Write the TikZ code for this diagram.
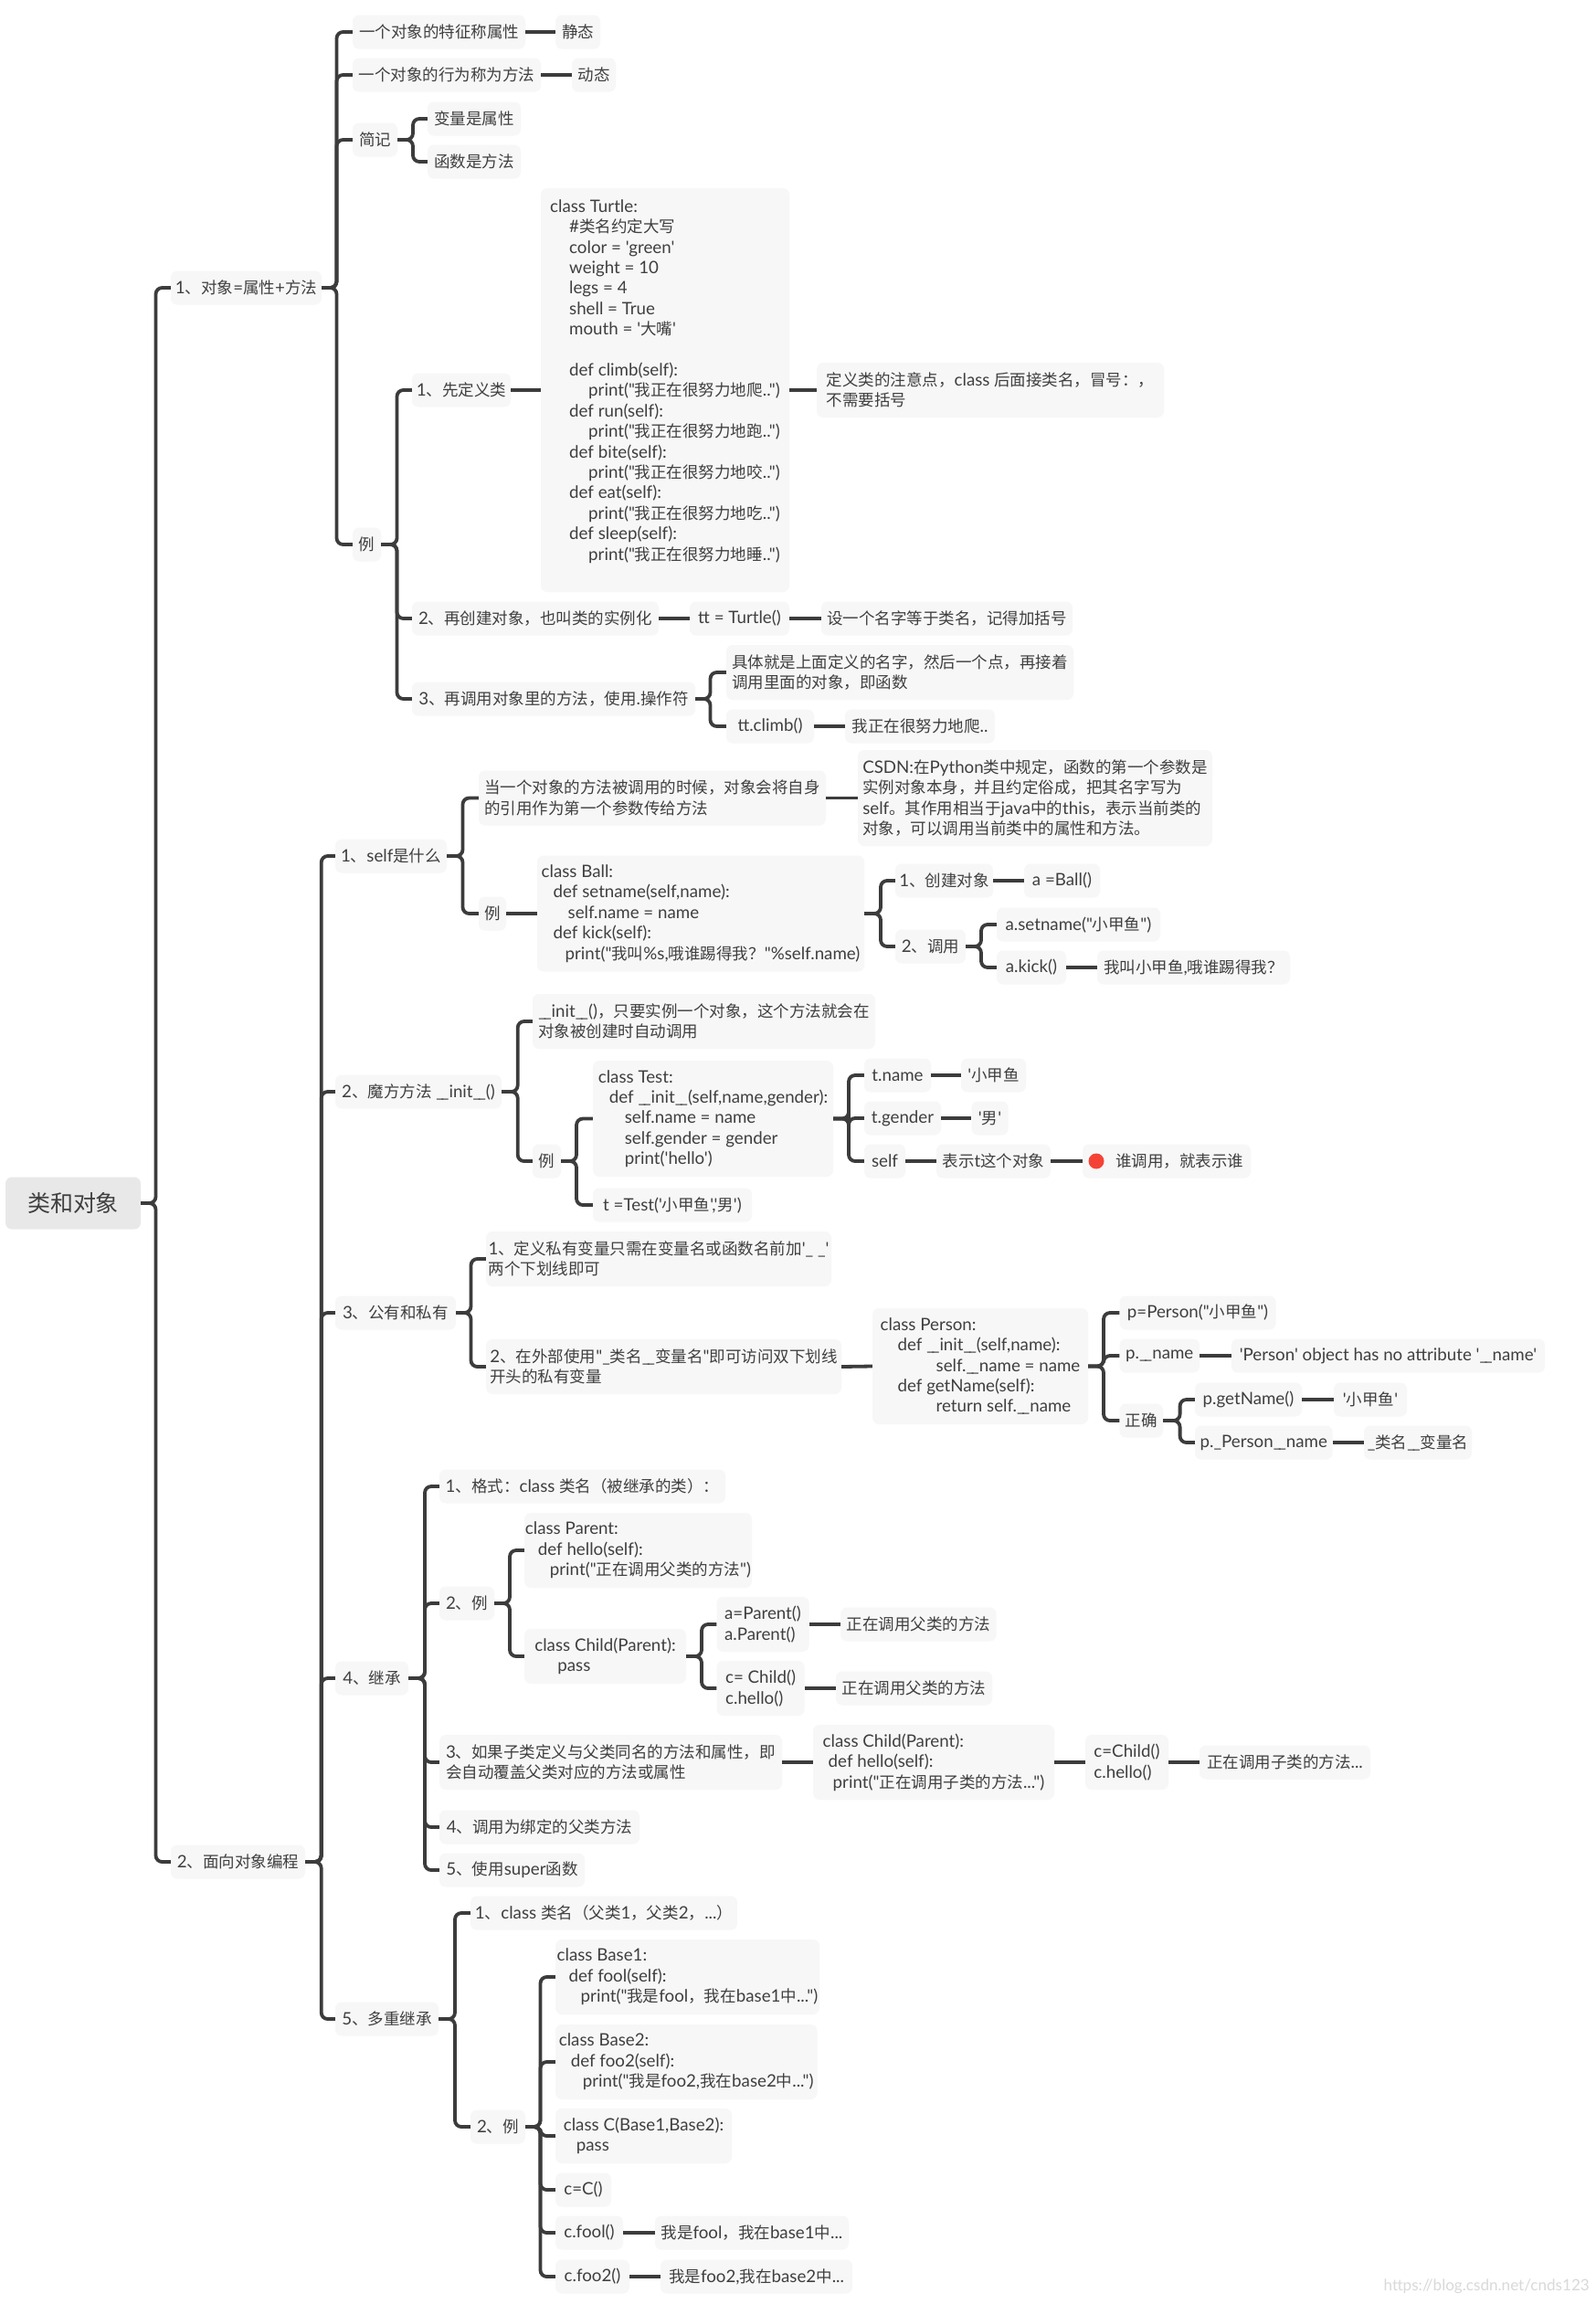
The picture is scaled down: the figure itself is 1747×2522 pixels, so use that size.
\documentclass[tikz,border=0pt]{standalone}
\usepackage{fontspec}
\newfontfamily\latf[Scale=1.07]{Lato}
\newfontfamily\cjkf{Noto Sans CJK SC}
\newXeTeXintercharclass\cjkclass
\newcount\cc
\newcommand{\setrange}[2]{\cc=#1\relax\loop\XeTeXcharclass\cc=\cjkclass\ifnum\cc<#2\relax\advance\cc by 1\repeat}
\setrange{"4E00}{"9FFF}
\setrange{"3000}{"303F}
\setrange{"FF00}{"FF60}
\XeTeXinterchartoks 0 \cjkclass={\cjkf}
\XeTeXinterchartoks 4095 \cjkclass={\cjkf}
\XeTeXinterchartoks \cjkclass 0={\latf}
\XeTeXinterchartoks \cjkclass 4095={\latf}
\XeTeXinterchartokenstate=1
\definecolor{linkc}{HTML}{3C3C3C}
\definecolor{boxc}{HTML}{F7F7F7}
\definecolor{rootc}{HTML}{E8E8E8}
\definecolor{textc}{HTML}{3F3F3F}
\definecolor{dotc}{HTML}{F44336}
\tikzset{
 box/.style={fill=boxc,rounded corners=7pt,inner sep=0pt,align=left,text=textc,
   font=\fontsize{17.5}{22.4}\selectfont\latf},
 rootbox/.style={box,fill=rootc,font=\fontsize{25}{30}\selectfont\latf},
 link/.style={draw=linkc,line width=3.8pt,rounded corners=7pt,line join=round},
 stub/.style={draw=linkc,line width=3.8pt},
}
% name, x-left, x-right, y-centre, height, text
\newcommand{\bx}[6]{\node[box,minimum width={#3-#2},minimum height=#5] (#1) at ({(#2+#3)/2},#4) {#6};}
% parent, child, bus x
\newcommand{\cn}[3]{\coordinate (bus) at (#3,0);\draw[link] (#1.east) -- (bus |- #1.east) -- (bus |- #2.west) -- (#2.west);}
\newcommand{\st}[2]{\draw[stub] (#1.east) -- (#2.west);}
\newcommand{\ind}[1]{\hspace*{#1pt}}
\newcommand{\dus}{\_\kern-3pt\_}
\begin{document}
\begin{tikzpicture}[x=1pt,y=-1pt]
\useasboundingbox (0,0) rectangle (1747,2522);
\fill[white] (0,0) rectangle (1747,2522);
\node[rootbox,minimum width=148,minimum height=57] (root) at (80,1317) {类和对象};
% level 1
\bx{a}{187}{352}{315}{37}{1、对象=属性+方法}
\bx{b}{187}{334}{2038}{37}{2、面向对象编程}
\cn{root}{a}{170.5}\cn{root}{b}{170.5}
% section 1
\bx{a1}{386}{575}{35}{37}{一个对象的特征称属性}
\bx{a1x}{608}{657}{35}{37}{静态}
\bx{a2}{386}{592}{82}{37}{一个对象的行为称为方法}
\bx{a2x}{626}{674}{82}{37}{动态}
\bx{a3}{386}{435}{153}{37}{简记}
\bx{a3x}{468}{570}{130}{37}{变量是属性}
\bx{a3y}{468}{570}{177}{37}{函数是方法}
\bx{a4}{386}{417}{596}{37}{例}
\cn{a}{a1}{368.5}\cn{a}{a2}{368.5}\cn{a}{a3}{368.5}\cn{a}{a4}{368.5}
\st{a1}{a1x}\st{a2}{a2x}
\cn{a3}{a3x}{452}\cn{a3}{a3y}{452}
\bx{e1}{451}{559}{427}{37}{1、先定义类}
\bx{e1c}{592}{864}{427}{442}{class Turtle:\\
\ind{21}\#类名约定大写\\
\ind{21}color = 'green'\\
\ind{21}weight = 10\\
\ind{21}legs = 4\\
\ind{21}shell = True\\
\ind{21}mouth = '大嘴'\\
\mbox{}\\
\ind{21}def climb(self):\\
\ind{42}print("我正在很努力地爬..")\\
\ind{21}def run(self):\\
\ind{42}print("我正在很努力地跑..")\\
\ind{21}def bite(self):\\
\ind{42}print("我正在很努力地咬..")\\
\ind{21}def eat(self):\\
\ind{42}print("我正在很努力地吃..")\\
\ind{21}def sleep(self):\\
\ind{42}print("我正在很努力地睡..")\\
\mbox{}}
\bx{e1n}{894}{1274}{427}{60}{定义类的注意点，class 后面接类名，冒号：，\\不需要括号}
\bx{e2}{451}{721}{677}{37}{2、再创建对象，也叫类的实例化}
\bx{e2c}{755}{864}{677}{37}{tt = Turtle()}
\bx{e2n}{899}{1174}{677}{37}{设一个名字等于类名，记得加括号}
\bx{e3}{451}{761}{765}{37}{3、再调用对象里的方法，使用.操作符}
\bx{e3a}{795}{1175}{736}{60}{具体就是上面定义的名字，然后一个点，再接着\\调用里面的对象，即函数}
\bx{e3b}{795}{891}{795}{37}{tt.climb()}
\bx{e3c}{925}{1089}{795}{37}{我正在很努力地爬..}
\cn{a4}{e1}{434.5}\cn{a4}{e2}{434.5}\cn{a4}{e3}{434.5}
\st{e1}{e1c}\st{e1c}{e1n}\st{e2}{e2c}\st{e2c}{e2n}
\cn{e3}{e3a}{777.5}\cn{e3}{e3b}{777.5}\st{e3b}{e3c}
% section 2
\bx{s1}{367}{489}{937}{37}{1、self是什么}
\bx{s2}{367}{549}{1195}{37}{2、魔方方法 \dus init\dus()}
\bx{s3}{367}{499}{1437}{37}{3、公有和私有}
\bx{s4}{367}{447}{1837}{37}{4、继承}
\bx{s5}{367}{480}{2210}{37}{5、多重继承}
\cn{b}{s1}{351.7}\cn{b}{s2}{351.7}\cn{b}{s3}{351.7}\cn{b}{s4}{351.7}\cn{b}{s5}{351.7}
% self
\bx{s1a}{524}{904}{873.5}{60}{当一个对象的方法被调用的时候，对象会将自身\\的引用作为第一个参数传给方法}
\bx{s1n}{939}{1327}{873.5}{105}{CSDN:在Python类中规定，函数的第一个参数是\\实例对象本身，并且约定俗成，把其名字写为\\self。其作用相当于java中的this，表示当前类的\\对象，可以调用当前类中的属性和方法。}
\bx{s1b}{524}{554}{1000}{37}{例}
\bx{s1c}{588}{946}{1000}{127}{class Ball:\\
\ind{13}def setname(self,name):\\
\ind{29}self.name = name\\
\ind{13}def kick(self):\\
\ind{26}print("我叫\%s,哦谁踢得我？"\%self.name)}
\bx{s1d}{980}{1087}{964}{37}{1、创建对象}
\bx{s1e}{1121}{1204}{964}{37}{a =Ball()}
\bx{s1f}{980}{1057}{1036}{37}{2、调用}
\bx{s1g}{1091}{1270}{1012}{37}{a.setname("小甲鱼")}
\bx{s1h}{1091}{1167}{1059}{37}{a.kick()}
\bx{s1i}{1201}{1412}{1059}{37}{我叫小甲鱼,哦谁踢得我？}
\cn{s1}{s1a}{506.5}\cn{s1}{s1b}{506.5}\st{s1a}{s1n}\st{s1b}{s1c}
\cn{s1c}{s1d}{964}\cn{s1c}{s1f}{964}\st{s1d}{s1e}
\cn{s1f}{s1g}{1074}\cn{s1f}{s1h}{1074}\st{s1h}{s1i}
% init
\bx{s2a}{583}{958}{1118}{60}{\dus init\dus()，只要实例一个对象，这个方法就会在\\对象被创建时自动调用}
\bx{s2b}{583}{614}{1271}{37}{例}
\bx{s2c}{649}{912}{1224.5}{127}{class Test:\\
\ind{12}def \dus init\dus(self,name,gender):\\
\ind{29}self.name = name\\
\ind{29}self.gender = gender\\
\ind{29}print('hello')}
\bx{s2d}{649}{823}{1319}{37}{t =Test('小甲鱼','男')}
\bx{s2e}{946}{1019}{1177}{37}{t.name}
\bx{s2f}{1052}{1123}{1177}{37}{'小甲鱼}
\bx{s2g}{946}{1030}{1224}{37}{t.gender}
\bx{s2h}{1063.5}{1103.5}{1224}{37}{'男'}
\bx{s2i}{946}{991}{1271}{37}{self}
\bx{s2j}{1025}{1150}{1271}{37}{表示t这个对象}
\bx{s2k}{1185}{1369}{1271}{37}{\ind{28}谁调用，就表示谁}
\node[circle,fill=dotc,minimum size=17pt,inner sep=0pt] (dot) at (1200,1271) {};
\cn{s2}{s2a}{566.7}\cn{s2}{s2b}{566.7}
\cn{s2b}{s2c}{631}\cn{s2b}{s2d}{631}
\cn{s2c}{s2e}{929}\cn{s2c}{s2g}{929}\cn{s2c}{s2i}{929}
\st{s2e}{s2f}\st{s2g}{s2h}\st{s2i}{s2j}\st{s2j}{s2k}
% private
\bx{s3a}{532}{910}{1378}{60}{1、定义私有变量只需在变量名或函数名前加'\_ \_'\\两个下划线即可}
\bx{s3b}{532}{921}{1496}{60}{2、在外部使用"\_类名\dus 变量名"即可访问双下划线\\开头的私有变量}
\bx{s3c}{955}{1191}{1495.5}{127}{class Person:\\
\ind{19}def \dus init\dus(self,name):\\
\ind{61}self.\dus name = name\\
\ind{19}def getName(self):\\
\ind{61}return self.\dus name}
\bx{s3d}{1225.5}{1396.6}{1437}{37}{p=Person("小甲鱼")}
\bx{s3e}{1225.5}{1313}{1484}{37}{p.\dus name}
\bx{s3f}{1348}{1691}{1484}{37}{'Person' object has no attribute '\dus name'}
\bx{s3g}{1225.5}{1273}{1555}{37}{正确}
\bx{s3h}{1308}{1425}{1532}{37}{p.getName()}
\bx{s3i}{1460}{1540}{1532}{37}{'小甲鱼'}
\bx{s3j}{1308}{1458.6}{1579}{37}{p.\_Person\dus name}
\bx{s3k}{1493}{1611}{1579}{37}{\_类名\dus 变量名}
\cn{s3}{s3a}{515.5}\cn{s3}{s3b}{515.5}\st{s3b}{s3c}
\cn{s3c}{s3d}{1208}\cn{s3c}{s3e}{1208}\cn{s3c}{s3g}{1208}\st{s3e}{s3f}
\cn{s3g}{s3h}{1291.6}\cn{s3g}{s3j}{1291.6}\st{s3h}{s3i}\st{s3j}{s3k}
% inherit
\bx{s4a}{481}{794}{1627}{37}{1、格式：class 类名（被继承的类）：}
\bx{s4b}{481}{541}{1755}{37}{2、例}
\bx{s4c}{574}{823}{1697}{82}{class Parent:\\
\ind{14}def hello(self):\\
\ind{27}print("正在调用父类的方法")}
\bx{s4d}{574}{751}{1813}{60}{class Child(Parent):\\
\ind{25}pass}
\bx{s4e}{784.5}{885.6}{1778}{60}{a=Parent()\\a.Parent()}
\bx{s4f}{920}{1090.5}{1778}{37}{正在调用父类的方法}
\bx{s4g}{784.5}{880.7}{1848}{60}{c= Child()\\c.hello()}
\bx{s4h}{915}{1086}{1848}{37}{正在调用父类的方法}
\bx{s4i}{481}{856}{1929}{60}{3、如果子类定义与父类同名的方法和属性，即\\会自动覆盖父类对应的方法或属性}
\bx{s4j}{890}{1154}{1929}{82}{class Child(Parent):\\
\ind{6}def hello(self):\\
\ind{11}print("正在调用子类的方法...")}
\bx{s4k}{1188}{1279}{1929}{60}{c=Child()\\c.hello()}
\bx{s4l}{1313}{1500}{1929}{37}{正在调用子类的方法...}
\bx{s4m}{481}{700}{2000}{37}{4、调用为绑定的父类方法}
\bx{s4n}{481}{640}{2047}{37}{5、使用super函数}
\cn{s4}{s4a}{465}\cn{s4}{s4b}{465}\cn{s4}{s4i}{465}\cn{s4}{s4m}{465}\cn{s4}{s4n}{465}
\cn{s4b}{s4c}{558}\cn{s4b}{s4d}{558}
\cn{s4d}{s4e}{768}\cn{s4d}{s4g}{768}\st{s4e}{s4f}\st{s4g}{s4h}
\st{s4i}{s4j}\st{s4j}{s4k}\st{s4k}{s4l}
% multiple
\bx{s5a}{515}{807}{2094}{37}{1、class 类名（父类1，父类2，...）}
\bx{s5b}{515}{575}{2328}{37}{2、例}
\bx{s5c}{608}{897}{2164}{82}{class Base1:\\
\ind{13}def fool(self):\\
\ind{26}print("我是fool，我在base1中...")}
\bx{s5d}{608}{894.5}{2257}{82}{class Base2:\\
\ind{13}def foo2(self):\\
\ind{26}print("我是foo2,我在base2中...")}
\bx{s5e}{608}{801}{2338}{60}{class C(Base1,Base2):\\
\ind{14}pass}
\bx{s5f}{608}{669}{2397}{37}{c=C()}
\bx{s5g}{608}{682}{2444}{37}{c.fool()}
\bx{s5h}{717}{929}{2444}{37}{我是fool，我在base1中...}
\bx{s5i}{608}{689}{2492}{37}{c.foo2()}
\bx{s5j}{723}{933}{2492}{37}{我是foo2,我在base2中...}
\cn{s5}{s5a}{498}\cn{s5}{s5b}{498}
\cn{s5b}{s5c}{591.5}\cn{s5b}{s5d}{591.5}\cn{s5b}{s5e}{591.5}\cn{s5b}{s5f}{591.5}\cn{s5b}{s5g}{591.5}\cn{s5b}{s5i}{591.5}
\st{s5g}{s5h}\st{s5i}{s5j}
\node[text=black!15,font=\fontsize{16}{20}\selectfont\latf,anchor=east,inner sep=0pt] (wm) at (1740,2503) {https://blog.csdn.net/cnds123};
\end{tikzpicture}
\end{document}
